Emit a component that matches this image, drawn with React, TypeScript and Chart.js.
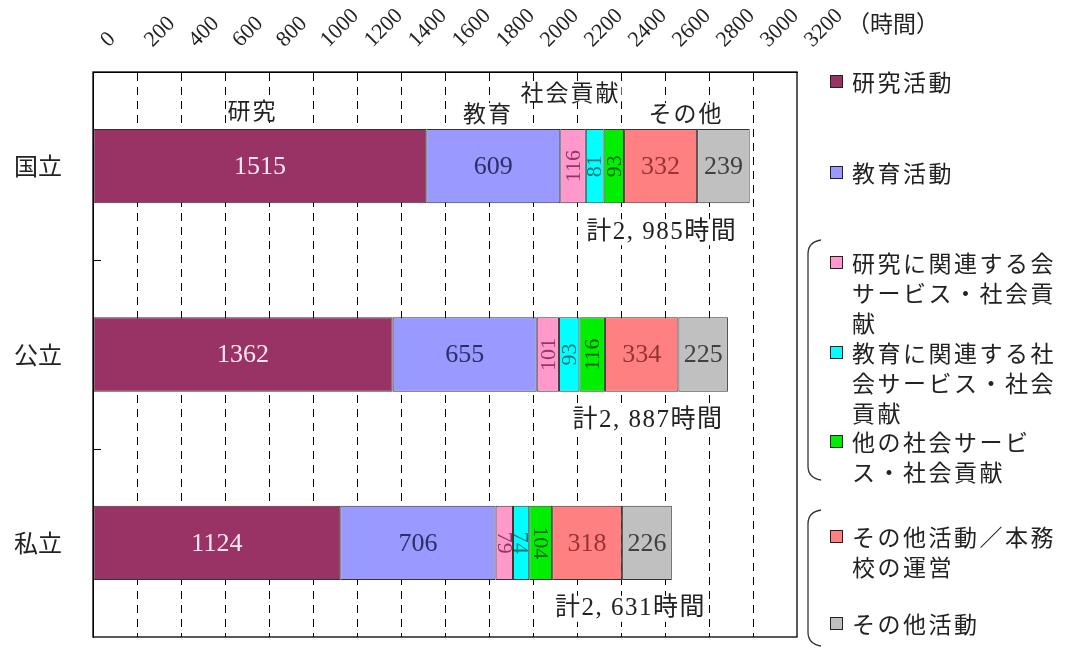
import React, { useEffect, useRef } from 'react';
import { Chart, registerables } from 'chart.js';

Chart.register(...registerables);

// ---- data ----
const categories = ['国立', '公立', '私立'];
const seriesNames = [
  '研究活動',
  '教育活動',
  '研究に関連する会サービス・社会貢献',
  '教育に関連する社会サービス・社会貢献',
  '他の社会サービス・社会貢献',
  'その他活動／本務校の運営',
  'その他活動',
];
const research = [1515, 1362, 1124];
const education = [609, 655, 706];
const researchService = [116, 101, 79];
const educationService = [81, 93, 74];
const otherService = [93, 116, 104];
const administration = [332, 334, 318];
const otherActivities = [239, 225, 226];
const totalLabels = ['計2, 985時間', '計2, 887時間', '計2, 631時間'];
const groupNames = ['研究', '教育', '社会貢献', 'その他'];
const axisUnit = '（時間）';
const xMax = 3200;
const xStep = 200;

// legend text lines (as wrapped in the original)
const legendLines = [
  ['研究活動'],
  ['教育活動'],
  ['研究に関連する会', 'サービス・社会貢', '献'],
  ['教育に関連する社', '会サービス・社会', '貢献'],
  ['他の社会サービ', 'ス・社会貢献'],
  ['その他活動／本務', '校の運営'],
  ['その他活動'],
];

// ---- styles / annotation placement ----
const fillColors = ['#993366', '#9999FF', '#FF99CC', '#00FFFF', '#00EE00', '#FF8080', '#C0C0C0'];
const labelColors = ['#FFE8F2', '#2E2E66', '#993366', '#007878', '#006600', '#993333', '#404040'];
const groupNoteAt = [725, 1795, 2170, 2695]; // data units on the x scale
const groupNoteDy = [-56, -53, -74, -53];
const totalNoteAt = [2585, 2523, 2443];
const legendFirstY = [82, 173, 263, 353, 442, 537, 624];
const rotateDir = [-1, -1, 1];

const SERIF = '"Liberation Serif", "Noto Sans CJK JP", serif';
const CJK = '"Noto Sans CJK JP", sans-serif';

const overlayPlugin = {
  id: 'overlay',
  afterDatasetsDraw(chart: any) {
    const { ctx, chartArea: a } = chart;
    const xs = chart.scales.x;
    const ys = chart.scales.y;

    // value labels in bars
    chart.data.datasets.forEach((ds: any, di: number) => {
      const meta = chart.getDatasetMeta(di);
      meta.data.forEach((bar: any, i: number) => {
        const v = ds.data[i];
        const p = bar.getProps(['x', 'y', 'base'], true);
        const cx = (p.x + p.base) / 2;
        const w = Math.abs(p.x - p.base);
        ctx.save();
        ctx.fillStyle = labelColors[di];
        ctx.textAlign = 'center';
        ctx.textBaseline = 'middle';
        if (w < 40) {
          ctx.font = `22px ${SERIF}`;
          ctx.translate(cx, p.y);
          ctx.rotate((rotateDir[i] * Math.PI) / 2);
          ctx.fillText(String(v), 0, 1);
        } else {
          ctx.font = `26px ${SERIF}`;
          ctx.fillText(String(v), cx, p.y + 1);
        }
        ctx.restore();
      });
    });

    // frame
    ctx.save();
    ctx.strokeStyle = '#000';
    ctx.lineWidth = 1.3;
    ctx.strokeRect(a.left, a.top, a.right - a.left, a.bottom - a.top);
    // category boundary ticks on left axis
    ctx.lineWidth = 1;
    for (let i = 0; i < categories.length - 1; i++) {
      const yb = (ys.getPixelForValue(i) + ys.getPixelForValue(i + 1)) / 2;
      ctx.beginPath();
      ctx.moveTo(a.left, Math.round(yb) + 0.5);
      ctx.lineTo(a.left + 8, Math.round(yb) + 0.5);
      ctx.stroke();
    }
    ctx.restore();

    // group notes above first bar
    ctx.save();
    ctx.font = `23px ${CJK}`;
    (ctx as any).letterSpacing = '2px';
    ctx.textAlign = 'center';
    ctx.textBaseline = 'middle';
    const y0 = ys.getPixelForValue(0);
    groupNames.forEach((t, k) => {
      const x = xs.getPixelForValue(groupNoteAt[k]);
      const tw = ctx.measureText(t).width;
      ctx.fillStyle = '#fff';
      ctx.fillRect(x - tw / 2 - 1, y0 + groupNoteDy[k] - 10, tw + 2, 20);
      ctx.fillStyle = '#222';
      ctx.fillText(t, x, y0 + groupNoteDy[k]);
    });

    // totals below bars
    ctx.font = `25px ${SERIF}`;
    (ctx as any).letterSpacing = '1.5px';
    totalLabels.forEach((t, i) => {
      const x = xs.getPixelForValue(totalNoteAt[i]);
      const y = ys.getPixelForValue(i) + 66;
      const tw = ctx.measureText(t).width;
      ctx.fillStyle = '#fff';
      ctx.fillRect(x - tw / 2 - 2, y - 13, tw + 4, 26);
      ctx.fillStyle = '#222';
      ctx.fillText(t, x, y);
    });
    (ctx as any).letterSpacing = '0px';
    ctx.restore();
  },
  afterDraw(chart: any) {
    const { ctx } = chart;
    ctx.save();
    // unit label
    ctx.fillStyle = '#222';
    ctx.font = `23px ${CJK}`;
    ctx.textAlign = 'left';
    ctx.textBaseline = 'middle';
    ctx.fillText(axisUnit, 847, 23);

    // legend
    ctx.font = `23px ${CJK}`;
    (ctx as any).letterSpacing = '2.5px';
    legendLines.forEach((lines, k) => {
      const y = legendFirstY[k];
      ctx.fillStyle = fillColors[k];
      ctx.fillRect(830.5, y - 6.5, 12, 12);
      ctx.strokeStyle = '#222';
      ctx.lineWidth = 1;
      ctx.strokeRect(830.5, y - 6.5, 12, 12);
      ctx.fillStyle = '#222';
      lines.forEach((ln, j) => {
        ctx.fillText(ln, 852, y + j * 30);
      });
    });
    (ctx as any).letterSpacing = '0px';

    // brackets
    const bracket = (t: number, b: number) => {
      ctx.beginPath();
      ctx.moveTo(821, t);
      ctx.quadraticCurveTo(808, t + 2, 808, t + 14);
      ctx.lineTo(808, b - 14);
      ctx.quadraticCurveTo(808, b - 2, 821, b);
      ctx.strokeStyle = '#333';
      ctx.lineWidth = 1.3;
      ctx.stroke();
    };
    bracket(240, 480);
    bracket(510, 646);
    ctx.restore();
  },
};

export default function App() {
  const ref = useRef<HTMLCanvasElement | null>(null);
  useEffect(() => {
    if (!ref.current) return;
    const seriesData = [research, education, researchService, educationService, otherService, administration, otherActivities];
    const chart = new Chart(ref.current, {
      type: 'bar',
      data: {
        labels: categories,
        datasets: seriesData.map((d, k) => ({
          label: seriesNames[k],
          data: d,
          backgroundColor: fillColors[k],
          borderColor: '#333',
          borderWidth: 1,
          borderSkipped: false,
          barPercentage: 0.395,
          categoryPercentage: 1,
        })),
      },
      options: {
        indexAxis: 'y',
        responsive: false,
        animation: false,
        devicePixelRatio: 1,
        layout: { padding: { left: 0, right: 272, top: 0, bottom: 11 } },
        plugins: { legend: { display: false }, tooltip: { enabled: false } },
        scales: {
          x: {
            position: 'top',
            stacked: true,
            min: 0,
            max: xMax,
            ticks: {
              stepSize: xStep,
              autoSkip: false,
              minRotation: 45,
              maxRotation: 45,
              labelOffset: 30,
              padding: 19,
              color: '#222',
              font: { family: SERIF, size: 22 },
              callback: (v: any) => String(v),
            },
            grid: {
              drawTicks: false,
              color: (c: any) => (c.tick && (c.tick.value === 0 || c.tick.value === xMax) ? 'rgba(0,0,0,0)' : '#000'),
              lineWidth: 1,
            },
            border: { display: true, color: '#000', dash: [8, 6] },
            afterFit: (axis: any) => {
              axis.height = 72;
              axis.paddingLeft = 0;
              axis.paddingRight = 0;
            },
          },
          y: {
            stacked: true,
            ticks: {
              padding: 31,
              color: '#222',
              font: { family: CJK, size: 24 },
            },
            grid: { display: false, drawTicks: false },
            border: { display: true, color: '#000' },
            afterFit: (axis: any) => {
              axis.width = 93;
              axis.paddingTop = 0;
              axis.paddingBottom = 0;
            },
          },
        },
      },
      plugins: [overlayPlugin],
    });
    return () => chart.destroy();
  }, []);
  return (
    <div style={{ position: 'fixed', left: 0, top: 0, width: 1069, height: 648, background: '#fff' }}>
      <canvas ref={ref} width={1069} height={648} />
    </div>
  );
}
